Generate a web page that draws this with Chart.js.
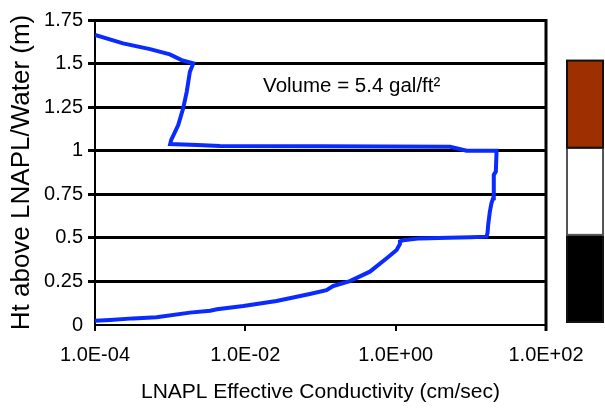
<!DOCTYPE html>
<html>
<head>
<meta charset="utf-8">
<script src="https://cdn.jsdelivr.net/npm/chart.js@4/dist/chart.umd.min.js"></script>
<style>
  html, body { margin: 0; padding: 0; background: #fff; }
  #wrap { width: 605px; height: 414px; position: relative; }
</style>
</head>
<body>
<div id="wrap"><canvas id="c" width="605" height="414"></canvas></div>
<script>
// ---- data ----
const conductivity = [1e-4, 1.58e-4, 3.2e-4, 6.6e-4, 1.83e-3, 3.4e-3, 4.2e-3, 9.4e-3, 0.026, 0.072, 0.12, 0.148, 0.246, 0.454, 0.76, 1.03, 1.14, 1.14, 1.26, 2.1, 5.0, 10, 16.2, 16.7, 17.0, 17.9, 18.8, 19.8, 20.2, 21.5, 22, 8.8, 5.3, 0.1, 4.6e-3, 2.3e-3, 1.0e-3, 1.03e-3, 1.28e-3, 1.49e-3, 1.66e-3, 1.83e-3, 2.03e-3, 1.42e-3, 9.9e-4, 5.4e-4, 2.36e-4, 1e-4];
const height = [0.025, 0.029, 0.038, 0.044, 0.071, 0.082, 0.09, 0.109, 0.138, 0.178, 0.2, 0.224, 0.252, 0.306, 0.383, 0.43, 0.465, 0.48, 0.486, 0.497, 0.5, 0.503, 0.507, 0.53, 0.574, 0.65, 0.698, 0.727, 0.861, 0.88, 1.0, 1.0, 1.023, 1.025, 1.027, 1.033, 1.038, 1.061, 1.147, 1.243, 1.338, 1.453, 1.501, 1.52, 1.553, 1.583, 1.616, 1.664];

const xTickValues = [1e-4, 1e-2, 1, 100];
const xTickLabels = ['1.0E-04', '1.0E-02', '1.0E+00', '1.0E+02'];
const yTickValues = [0, 0.25, 0.5, 0.75, 1, 1.25, 1.5, 1.75];
const yTickLabels = ['0', '0.25', '0.5', '0.75', '1', '1.25', '1.5', '1.75'];

const xTitle = 'LNAPL Effective Conductivity (cm/sec)';
const yTitle = 'Ht above LNAPL/Water (m)';
const noteText = 'Volume = 5.4 gal/ft\u00B2';
const noteAt = { x: 0.26, y: 1.37 };

// side column layers (height ranges on the y scale)
const layerBottom = [0, 0.5, 1.0];
const layerTop = [0.5, 1.0, 1.5];
const layerColor = ['#000000', '#ffffff', '#9e2f00'];

const FONT = "'Liberation Sans', Arial, sans-serif";

const extras = {
  id: 'extras',
  afterDraw(chart) {
    const ctx = chart.ctx;
    const a = chart.chartArea;
    const ys = chart.scales.y, xs = chart.scales.x;
    ctx.save();
    // right frame line
    ctx.strokeStyle = '#000';
    ctx.lineWidth = 3;
    ctx.beginPath();
    ctx.moveTo(a.right, a.top - 1);
    ctx.lineTo(a.right, a.bottom + 6);
    ctx.stroke();
    // note
    ctx.fillStyle = '#000';
    ctx.font = '20.5px ' + FONT;
    ctx.textAlign = 'center';
    ctx.textBaseline = 'middle';
    ctx.fillText(noteText, xs.getPixelForValue(noteAt.x), ys.getPixelForValue(noteAt.y));
    // side column
    const x0 = a.right + 21, w = 36;
    for (let i = 0; i < layerBottom.length; i++) {
      const yt = ys.getPixelForValue(layerTop[i]) - 3;
      const yb = ys.getPixelForValue(layerBottom[i]) - 3;
      ctx.fillStyle = layerColor[i];
      ctx.fillRect(x0, yt, w, yb - yt);
      ctx.strokeStyle = i === 1 ? '#555' : '#111';
      ctx.lineWidth = 2;
      ctx.strokeRect(x0, yt, w, yb - yt);
    }
    ctx.restore();
  }
};

new Chart(document.getElementById('c'), {
  type: 'scatter',
  data: {
    datasets: [{
      data: conductivity.map((c, i) => ({ x: c, y: height[i] })),
      showLine: true,
      borderColor: '#0a2bff',
      borderWidth: 4,
      pointRadius: 0,
      tension: 0,
      fill: false
    }]
  },
  options: {
    responsive: false,
    animation: false,
    devicePixelRatio: 1,
    layout: { padding: { top: 20, right: 59, bottom: 0, left: 0 } },
    plugins: { legend: { display: false }, tooltip: { enabled: false } },
    scales: {
      x: {
        type: 'logarithmic',
        min: 1e-4,
        max: 100,
        afterBuildTicks: s => { s.ticks = xTickValues.map(v => ({ value: v })); },
        afterFit: s => { s.height = 89; },
        ticks: {
          autoSkip: false,
          maxRotation: 0,
          color: '#000',
          padding: 12,
          font: { family: FONT, size: 20 },
          callback: (v, i) => xTickLabels[i]
        },
        grid: { display: true, drawOnChartArea: false, drawTicks: true, tickLength: 6, color: '#000', lineWidth: 2 },
        border: { display: true, color: '#000', width: 2 },
        title: {
          display: true,
          text: xTitle,
          color: '#000',
          font: { family: FONT, size: 21 },
          padding: { top: 0, bottom: 9 }
        }
      },
      y: {
        type: 'linear',
        min: 0,
        max: 1.75,
        afterBuildTicks: s => { s.ticks = yTickValues.map(v => ({ value: v })); },
        afterFit: s => { s.width = 95; },
        ticks: {
          color: '#000',
          padding: 5,
          font: { family: FONT, size: 20 },
          callback: (v, i) => yTickLabels[i]
        },
        grid: {
          color: '#000',
          lineWidth: c => (c.tick && c.tick.value === 0) ? 0 : 3,
          tickLength: 7,
          drawTicks: true
        },
        border: { display: true, color: '#000', width: 2 },
        title: {
          display: true,
          text: yTitle,
          color: '#000',
          font: { family: FONT, size: 26 },
          padding: { top: 6, bottom: 0 }
        }
      }
    }
  },
  plugins: [extras]
});
</script>
</body>
</html>
